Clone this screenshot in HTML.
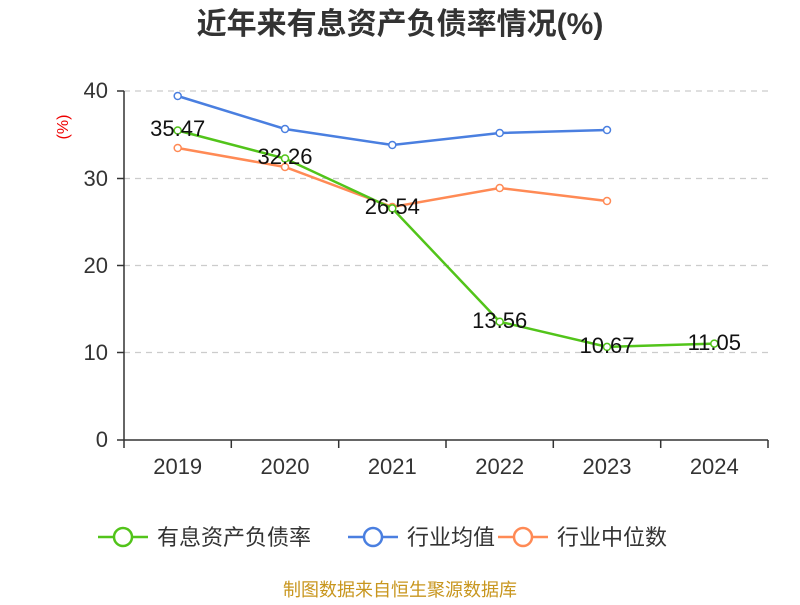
<!DOCTYPE html>
<html><head><meta charset="utf-8"><style>
body{margin:0;background:#fff;width:800px;height:600px;overflow:hidden}
text{font-family:"Liberation Sans","Noto Sans CJK SC",sans-serif}
</style></head><body>
<svg width="800" height="600" viewBox="0 0 800 600">
<text x="400" y="34" text-anchor="middle" font-size="30" font-weight="bold" fill="#333">近年来有息资产负债率情况(%)</text>
<text x="68" y="127" font-size="16" fill="#e00" transform="rotate(-90 68 127)" text-anchor="middle">(%)</text>
<g stroke="#ccc" stroke-dasharray="6,5" stroke-width="1.2">
<line x1="124" y1="91" x2="768" y2="91"/><line x1="124" y1="178.5" x2="768" y2="178.5"/>
<line x1="124" y1="265.5" x2="768" y2="265.5"/><line x1="124" y1="352.5" x2="768" y2="352.5"/>
</g>
<g stroke="#333" stroke-width="1.5">
<line x1="124" y1="91" x2="124" y2="440"/><line x1="124" y1="440" x2="768" y2="440"/>
<line x1="117" y1="91" x2="124" y2="91"/><line x1="117" y1="178.5" x2="124" y2="178.5"/><line x1="117" y1="265.5" x2="124" y2="265.5"/><line x1="117" y1="352.5" x2="124" y2="352.5"/><line x1="117" y1="440" x2="124" y2="440"/>
<line x1="124" y1="440" x2="124" y2="448"/><line x1="231.3" y1="440" x2="231.3" y2="448"/><line x1="338.7" y1="440" x2="338.7" y2="448"/><line x1="446" y1="440" x2="446" y2="448"/><line x1="553.3" y1="440" x2="553.3" y2="448"/><line x1="660.7" y1="440" x2="660.7" y2="448"/><line x1="768" y1="440" x2="768" y2="448"/>
</g>
<g font-size="22" fill="#333" text-anchor="end">
<text x="108" y="98">40</text><text x="108" y="186">30</text><text x="108" y="273">20</text><text x="108" y="360">10</text><text x="108" y="447">0</text>
</g>
<g font-size="22" fill="#333" text-anchor="middle">
<text x="177.7" y="474">2019</text><text x="285" y="474">2020</text><text x="392.3" y="474">2021</text><text x="499.7" y="474">2022</text><text x="607" y="474">2023</text><text x="714.3" y="474">2024</text>
</g>
<g fill="#fff" stroke-width="1.5">
<polyline fill="none" stroke="#4a7fe0" stroke-width="2.5" points="177.7,96 285,129 392.3,145 499.7,133 607,130"/>
<g stroke="#4a7fe0"><circle cx="177.7" cy="96" r="3.5"/><circle cx="285" cy="129" r="3.5"/><circle cx="392.3" cy="145" r="3.5"/><circle cx="499.7" cy="133" r="3.5"/><circle cx="607" cy="130" r="3.5"/></g>
<polyline fill="none" stroke="#ff8a55" stroke-width="2.5" points="177.7,148 285,167 392.3,207 499.7,188 607,201"/>
<g stroke="#ff8a55"><circle cx="177.7" cy="148" r="3.5"/><circle cx="285" cy="167" r="3.5"/><circle cx="392.3" cy="207" r="3.5"/><circle cx="499.7" cy="188" r="3.5"/><circle cx="607" cy="201" r="3.5"/></g>
<polyline fill="none" stroke="#52c41a" stroke-width="2.5" points="177.7,130.5 285,158.5 392.3,208.4 499.7,321.7 607,346.9 714.3,343.6"/>
<g stroke="#52c41a"><circle cx="177.7" cy="130.5" r="3.5"/><circle cx="285" cy="158.5" r="3.5"/><circle cx="392.3" cy="208.4" r="3.5"/><circle cx="499.7" cy="321.7" r="3.5"/><circle cx="607" cy="346.9" r="3.5"/><circle cx="714.3" cy="343.6" r="3.5"/></g>
</g>
<g font-size="22" fill="#111" text-anchor="middle">
<text x="177.7" y="136">35.47</text><text x="285" y="164">32.26</text><text x="392.3" y="214">26.54</text><text x="499.7" y="328">13.56</text><text x="607" y="353">10.67</text><text x="714.3" y="350">11.05</text>
</g>
<g stroke-width="2.5" fill="#fff">
<line x1="98" y1="537" x2="148" y2="537" stroke="#52c41a"/><circle cx="123" cy="537" r="9" stroke="#52c41a"/>
<line x1="348" y1="537" x2="398" y2="537" stroke="#4a7fe0"/><circle cx="373" cy="537" r="9" stroke="#4a7fe0"/>
<line x1="498" y1="537" x2="548" y2="537" stroke="#ff8a55"/><circle cx="523" cy="537" r="9" stroke="#ff8a55"/>
</g>
<g font-size="22" fill="#333">
<text x="157" y="545">有息资产负债率</text><text x="407" y="545">行业均值</text><text x="557" y="545">行业中位数</text>
</g>
<text x="400" y="596" text-anchor="middle" font-size="18" fill="#c8961e">制图数据来自恒生聚源数据库</text>
</svg>
</body></html>
